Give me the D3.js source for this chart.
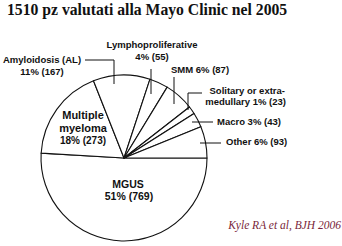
<!DOCTYPE html>
<html><head><meta charset="utf-8">
<script src="https://cdn.jsdelivr.net/npm/d3@7"></script>
<style>body{margin:0;background:#fff}svg{display:block}</style>
</head><body>
<svg id="c" width="342" height="246"></svg>
<script>
const categories = ["MGUS","Multiple myeloma","Amyloidosis (AL)","Lymphoproliferative","SMM","Solitary or extra-medullary","Macro","Other"];
const counts = [769,273,167,55,87,23,43,93];
const percents = [51,18,11,4,6,1,3,6];
const title = "1510 pz valutati alla Mayo Clinic nel 2005";
const citation = "Kyle RA et al, BJH 2006";

const svg = d3.select("#c");
const cx = 124, cy = 158, r = 83;
const data = categories.map((c,i)=>({cat:c,count:counts[i],pct:percents[i]}));
const pie = d3.pie().sort(null).value(d=>d.count).startAngle(Math.PI/2).endAngle(Math.PI/2+2*Math.PI);
const arc = d3.arc().innerRadius(0).outerRadius(r);
const g = svg.append("g").attr("transform",`translate(${cx},${cy})`);
g.selectAll("path").data(pie(data)).join("path")
  .attr("d",arc).attr("fill","#fff").attr("stroke","#111").attr("stroke-width",1.1).attr("stroke-linejoin","round");

svg.append("text").attr("x",7).attr("y",15).attr("font-family","Liberation Serif, serif")
  .attr("font-weight","bold").attr("font-size",15.7).attr("fill","#111").text(title);

const sans = "Liberation Sans, Arial, sans-serif";
function txt(x,y,s,anchor,size){
  svg.append("text").attr("x",x).attr("y",y).attr("text-anchor",anchor||"start")
    .attr("font-family",sans).attr("font-weight","bold").attr("font-size",size||9.5).attr("fill","#111").text(s);
}
function line(pts){
  svg.append("path").attr("d",d3.line()(pts)).attr("fill","none").attr("stroke","#111").attr("stroke-width",1);
}
const lbl = i => `${percents[i]}% (${counts[i]})`;

// Amyloidosis
txt(42,63,"Amyloidosis (AL)","middle");
txt(42,75,lbl(2),"middle");
line([[85,60],[114,60],[114,84]]);
// Lymphoproliferative
txt(152,48,"Lymphoproliferative","middle");
txt(152,60,lbl(3),"middle");
line([[151,69],[151,94]]);
// SMM
txt(171,73,"SMM "+lbl(4),"start");
line([[174,77],[174,104]]);
// Solitary
txt(285,94,"Solitary or extra-","end");
txt(286,105,"medullary "+lbl(5),"end");
line([[202,93],[188,93],[188,110]]);
// Macro
txt(217,125,"Macro "+lbl(6),"start");
line([[192,122],[213,122]]);
// Other
txt(226,145,"Other "+lbl(7),"start");
line([[200,143],[221,143]]);
// Multiple myeloma
txt(83,119,"Multiple","middle",11);
txt(83,132,"myeloma","middle",11);
txt(83,144,lbl(1),"middle",10);
// MGUS
txt(128,188,"MGUS","middle",10.5);
txt(129,200,lbl(0),"middle",10.5);

svg.append("text").attr("x",341).attr("y",229).attr("text-anchor","end")
  .attr("font-family","Liberation Serif, serif").attr("font-style","italic").attr("font-size",11.5)
  .attr("fill","#7a1f3a").text(citation);
</script>
</body></html>
